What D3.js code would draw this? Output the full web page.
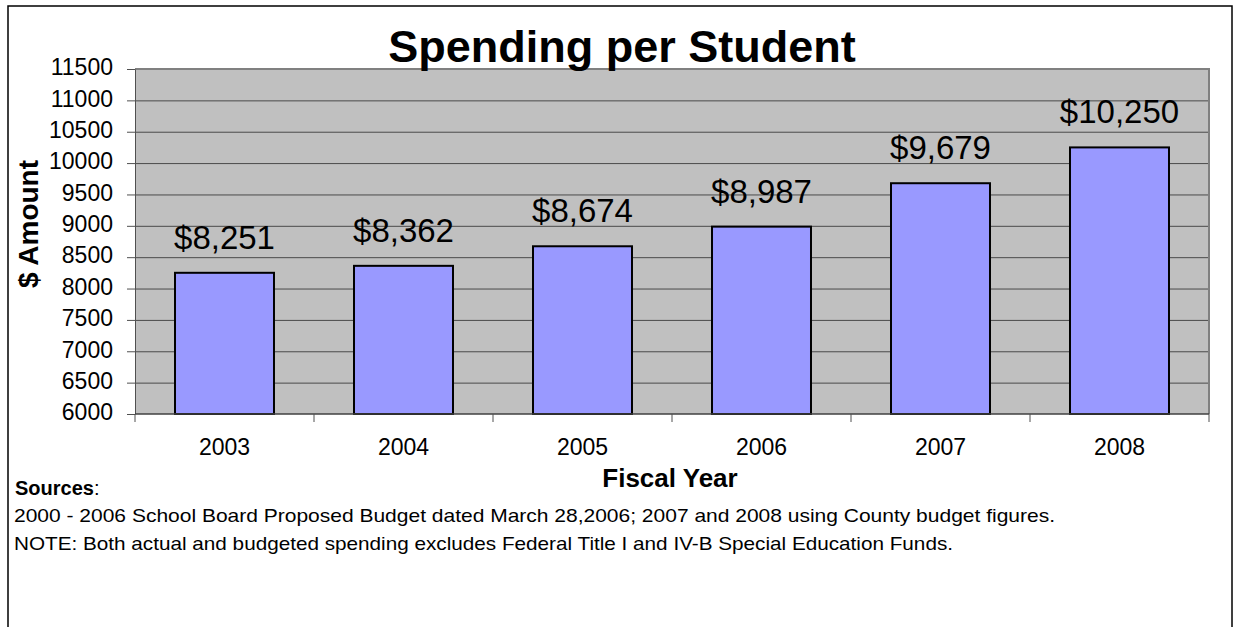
<!DOCTYPE html>
<html lang="en">
<head>
    <meta charset="UTF-8">
    <title>Spending per Student</title>
    <script src="https://d3js.org/d3.v7.min.js"></script>
    <style>
        body { margin: 0; background: #fff; }
        svg { display: block; font-family: "Liberation Sans", Arial, sans-serif; }
        .grid line { stroke: #4a4a4a; stroke-width: 1px; }
        .grid .domain { display: none; }
        .y-axis text, .x-axis text { font-size: 23px; fill: #000; }
        .y-axis line, .y-axis .domain { stroke: #505050; }
        .x-axis .domain { display: none; }
        .bar { fill: #9999ff; stroke: #000; stroke-width: 2px; }
        .bar-label { font-size: 33px; fill: #000; text-anchor: middle; }
    </style>
</head>
<body>
    <svg width="1236" height="627"></svg>

    <script>
        // chart data
        const years = ["2003", "2004", "2005", "2006", "2007", "2008"];
        const spending = [8251, 8362, 8674, 8987, 9679, 10250];
        const yTicks = [6000, 6500, 7000, 7500, 8000, 8500, 9000, 9500, 10000, 10500, 11000, 11500];

        const titleText = "Spending per Student";
        const yLabel = "$ Amount";
        const xLabel = "Fiscal Year";
        const sourceLines = [
            "2000 - 2006 School Board Proposed Budget dated March 28,2006; 2007 and 2008 using County budget figures.",
            "NOTE: Both actual and budgeted spending excludes Federal Title I and IV-B Special Education Funds."
        ];

        const svg = d3.select("svg");
        const plot = { left: 135, right: 1209, top: 69, bottom: 414 };

        // outer frame
        svg.append("rect")
            .attr("x", 8).attr("y", 6)
            .attr("width", 1224).attr("height", 700)
            .attr("fill", "none")
            .attr("stroke", "#000")
            .attr("stroke-width", 1.5);

        const x = d3.scaleBand()
            .domain(years)
            .range([plot.left, plot.right])
            .paddingInner(0.447)
            .paddingOuter(0.2235);

        const y = d3.scaleLinear()
            .domain([yTicks[0], yTicks[yTicks.length - 1]])
            .range([plot.bottom, plot.top]);

        // plot background
        svg.append("rect")
            .attr("x", plot.left).attr("y", plot.top)
            .attr("width", plot.right - plot.left)
            .attr("height", plot.bottom - plot.top)
            .attr("fill", "#c0c0c0");

        // gridlines
        svg.append("g")
            .attr("class", "grid")
            .attr("transform", `translate(${plot.left},0)`)
            .call(d3.axisLeft(y)
                .tickValues(yTicks.slice(1, -1))
                .tickSize(-(plot.right - plot.left))
                .tickFormat(""));

        // top and right border of the plot area
        svg.append("path")
            .attr("d", `M${plot.left},${plot.top}H${plot.right}V${plot.bottom}`)
            .attr("fill", "none")
            .attr("stroke", "#808080")
            .attr("stroke-width", 2);

        // bars
        svg.append("g")
            .selectAll("rect")
            .data(years)
            .enter().append("rect")
            .attr("class", "bar")
            .attr("x", d => x(d))
            .attr("y", (d, i) => y(spending[i]))
            .attr("width", x.bandwidth())
            .attr("height", (d, i) => y(yTicks[0]) - y(spending[i]));

        // value labels
        const fmt = d3.format("$,");
        svg.append("g")
            .selectAll("text")
            .data(years)
            .enter().append("text")
            .attr("class", "bar-label")
            .attr("x", d => x(d) + x.bandwidth() / 2)
            .attr("y", (d, i) => y(spending[i]) - 24)
            .text((d, i) => fmt(spending[i]));

        // y axis
        const yAxis = svg.append("g")
            .attr("class", "y-axis")
            .attr("transform", `translate(${plot.left},0)`)
            .call(d3.axisLeft(y)
                .tickValues(yTicks)
                .tickSize(8)
                .tickSizeOuter(0)
                .tickPadding(14)
                .tickFormat(d3.format("d")));
        yAxis.selectAll("text").attr("dy", "0.25em");

        // x axis: labels at band centres, ticks at band edges
        svg.append("g")
            .attr("class", "x-axis")
            .attr("transform", `translate(0,${plot.bottom})`)
            .call(d3.axisBottom(x).tickSize(0).tickPadding(25));

        svg.append("line")
            .attr("x1", plot.left).attr("x2", plot.right)
            .attr("y1", plot.bottom).attr("y2", plot.bottom)
            .attr("stroke", "#404040")
            .attr("stroke-width", 1.5);

        const step = x.step();
        svg.append("g")
            .selectAll("line")
            .data(d3.range(years.length + 1))
            .enter().append("line")
            .attr("x1", i => plot.left + i * step)
            .attr("x2", i => plot.left + i * step)
            .attr("y1", plot.bottom)
            .attr("y2", plot.bottom + 8)
            .attr("stroke", "#505050");

        // title
        svg.append("text")
            .attr("x", 622).attr("y", 62)
            .attr("text-anchor", "middle")
            .attr("font-size", 45)
            .attr("font-weight", "bold")
            .text(titleText);

        // axis titles
        svg.append("text")
            .attr("transform", "translate(38,224) rotate(-90)")
            .attr("text-anchor", "middle")
            .attr("font-size", 28)
            .attr("font-weight", "bold")
            .text(yLabel);

        svg.append("text")
            .attr("x", 670).attr("y", 487)
            .attr("text-anchor", "middle")
            .attr("font-size", 26)
            .attr("font-weight", "bold")
            .text(xLabel);

        // sources block
        const src = svg.append("text")
            .attr("x", 15).attr("y", 495)
            .attr("font-size", 20);
        src.append("tspan").attr("font-weight", "bold").text("Sources");
        src.append("tspan").text(":");

        const lineWidths = [1041, 939];
        svg.append("g")
            .selectAll("text")
            .data(sourceLines)
            .enter().append("text")
            .attr("x", 14)
            .attr("y", (d, i) => 522 + i * 28)
            .attr("font-size", 18.5)
            .attr("textLength", (d, i) => lineWidths[i])
            .attr("lengthAdjust", "spacingAndGlyphs")
            .text(d => d);
    </script>
</body>
</html>
